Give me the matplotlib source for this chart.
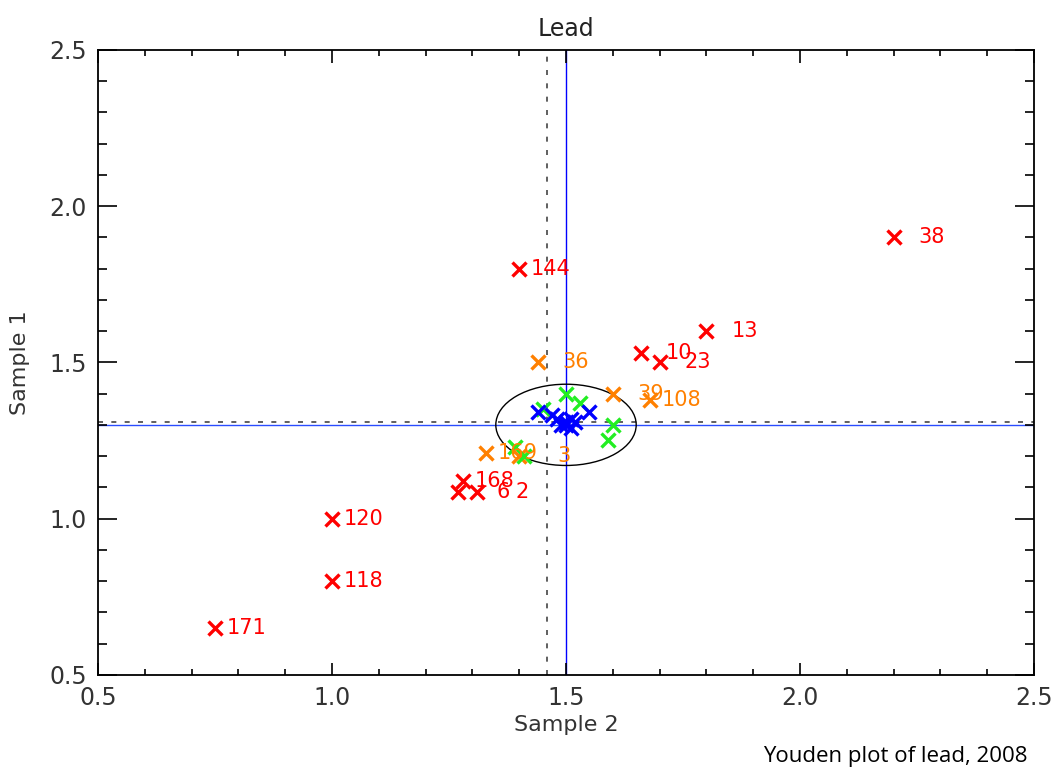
import matplotlib
matplotlib.use("Agg")
import matplotlib.pyplot as plt
from matplotlib.patches import Ellipse
from matplotlib.ticker import MultipleLocator

# ---- data ----
red_x = [2.20, 1.40, 1.80, 1.66, 1.70, 1.28, 1.27, 1.31, 1.00, 1.00, 0.75]
red_y = [1.90, 1.80, 1.60, 1.53, 1.50, 1.12, 1.085, 1.085, 1.00, 0.80, 0.65]
red_labels = ["38", "144", "13", "10", "23", "168", "6", "2", "120", "118", "171"]

orange_x = [1.44, 1.60, 1.68, 1.33, 1.40]
orange_y = [1.50, 1.40, 1.38, 1.21, 1.20]
orange_labels = ["36", "39", "108", "169", "3"]

green_x = [1.50, 1.53, 1.45, 1.60, 1.59, 1.39, 1.41]
green_y = [1.40, 1.37, 1.35, 1.30, 1.25, 1.23, 1.20]

blue_x = [1.44, 1.47, 1.55, 1.49, 1.51, 1.50, 1.52, 1.48, 1.51, 1.50]
blue_y = [1.34, 1.33, 1.34, 1.30, 1.32, 1.30, 1.31, 1.32, 1.29, 1.31]

assigned_x, assigned_y = 1.50, 1.30      # blue solid reference lines
median_x, median_y = 1.46, 1.31          # dashed lines
ellipse_w, ellipse_h = 0.30, 0.26

plt.rcParams['font.family'] = ['DejaVu Sans']

fig = plt.figure(figsize=(10.54, 7.73), dpi=100)
ax = fig.add_axes([0.093, 0.127, 0.888, 0.8085])
ax.set_xlim(0.5, 2.5)
ax.set_ylim(0.5, 2.5)

tc = '#333333'
ax.axvline(assigned_x, color='#0000ff', lw=1.0, zorder=1)
ax.axhline(assigned_y, color='#2a4dff', lw=1.0, zorder=1)
ax.axvline(median_x, color='#444444', lw=1.2, ls=(0, (3, 5)), zorder=1)
ax.axhline(median_y, color='#444444', lw=1.2, ls=(0, (3, 5)), zorder=1)
ax.add_patch(Ellipse((assigned_x, assigned_y), ellipse_w, ellipse_h,
                     fill=False, ec='black', lw=1.0, zorder=2))

mk = dict(marker='x', ls='none', ms=10, mew=2.4)
ax.plot(red_x, red_y, color='#ff0000', zorder=3, **mk)
ax.plot(orange_x, orange_y, color='#ff8000', zorder=3, **mk)
ax.plot(green_x, green_y, color='#22ee22', zorder=4, **mk)
ax.plot(blue_x, blue_y, color='#0000ff', zorder=5, **mk)

for xs, ys, labs, c in [(red_x, red_y, red_labels, '#ff0000'),
                        (orange_x, orange_y, orange_labels, '#ff8000')]:
    for x, y, l in zip(xs, ys, labs):
        ax.annotate(l, (x, y), xytext=(37, 0), textcoords='offset points',
                    ha='right', va='center', color=c, fontsize=15, zorder=6)

ax.xaxis.set_major_locator(MultipleLocator(0.5))
ax.yaxis.set_major_locator(MultipleLocator(0.5))
ax.xaxis.set_minor_locator(MultipleLocator(0.1))
ax.yaxis.set_minor_locator(MultipleLocator(0.1))
ax.xaxis.set_major_formatter(matplotlib.ticker.FormatStrFormatter('%.1f'))
ax.yaxis.set_major_formatter(matplotlib.ticker.FormatStrFormatter('%.1f'))
ax.tick_params(axis='x', which='major', direction='in', length=9, width=1.2,
               top=True, labelsize=17, labelcolor=tc, pad=8)
ax.tick_params(axis='x', which='minor', direction='in', length=4.5, width=1.2, top=True)
ax.tick_params(axis='y', which='major', direction='in', length=13.5, width=1.2,
               right=True, labelsize=17, labelcolor=tc, pad=8)
ax.tick_params(axis='y', which='minor', direction='in', length=6.7, width=1.2, right=True)
for s in ax.spines.values():
    s.set_linewidth(1.3)

ax.set_title('Lead', fontsize=17, color='#222222', pad=10)
ax.set_xlabel('Sample 2', fontsize=16, color=tc, labelpad=4)
ax.set_ylabel('Sample 1', fontsize=16, color=tc, labelpad=14)

fig.text(0.975, 0.008, 'Youden plot of lead, 2008', ha='right', va='bottom',
         fontsize=16, family='Open Sans', color='black')

fig.savefig('out.png', dpi=100)
